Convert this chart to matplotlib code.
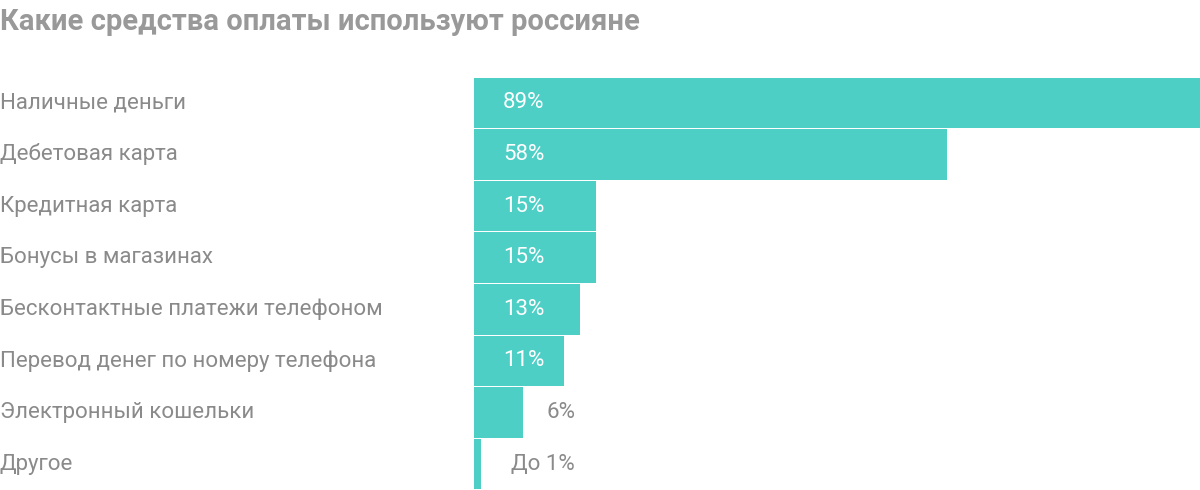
import matplotlib
matplotlib.use("Agg")
import matplotlib.pyplot as plt

categories = ["Наличные деньги", "Дебетовая карта", "Кредитная карта", "Бонусы в магазинах",
              "Бесконтактные платежи телефоном", "Перевод денег по номеру телефона",
              "Электронный кошельки", "Другое"]
values = [89, 58, 15, 15, 13, 11, 6, 0.8]
labels = ["89%", "58%", "15%", "15%", "13%", "11%", "6%", "До 1%"]

plt.rcParams['font.family'] = ['Roboto', 'DejaVu Sans']
fig = plt.figure(figsize=(12, 4.9), dpi=100)
ax = fig.add_axes([474/1200, 0, 1 - 474/1200, 1 - 77/490])
n = len(categories)
ypos = list(range(n))
ax.barh(ypos, values, height=0.98, color="#4ECFC6", edgecolor="none")
ax.set_xlim(0, 89)
ax.set_ylim(n - 0.5, -0.5)
ax.axis("off")
gray = "#8a8a8a"
for y, v, lab, cat in zip(ypos, values, labels, categories):
    if v >= 10:
        ax.text(6.1, y, lab, color="white", fontsize=16, ha="center", va="center")
    else:
        ax.text(12.4, y, lab, color=gray, fontsize=16, ha="right", va="center")
    fig.text(0.0, 0, cat, color=gray, fontsize=16, ha="left", va="center",
             transform=ax.get_yaxis_transform() if False else None) if False else None
    ax.text(-474/726*89, y, cat, color=gray, fontsize=16, ha="left", va="center", clip_on=False)
fig.text(0.0, 1 - 22/490, "Какие средства оплаты используют россияне", color="#999999",
         fontsize=21, fontweight="bold", ha="left", va="center")
fig.savefig("out.png", dpi=100, facecolor="white")
